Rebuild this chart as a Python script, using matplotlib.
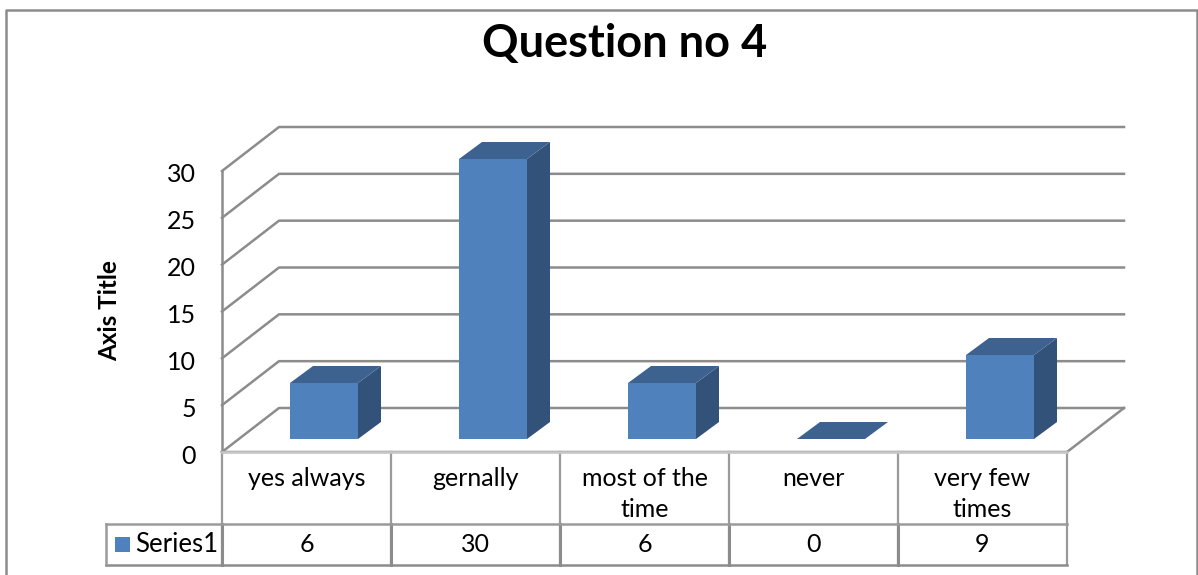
import matplotlib
matplotlib.use("Agg")
import matplotlib.pyplot as plt
from matplotlib.patches import Polygon, Rectangle

categories = ["yes always", "gernally", "most of the\ntime", "never", "very few\ntimes"]
values = [6, 30, 6, 0, 9]
yticks = [0, 5, 10, 15, 20, 25, 30]
series_name = "Series1"
title = "Question no 4"
ylabel = "Axis Title"

W, H = 1198, 575
FONT = ["Lato", "DejaVu Sans"]
BLUE, TOP, SIDE = "#4f81bd", "#3d628f", "#32527a"
GRID = "#8c8c8c"

fig = plt.figure(figsize=(W / 100, H / 100), dpi=100, facecolor="white")
L, R, T, B = 222, 1067, 171, 452
ax = fig.add_axes([L / W, 1 - B / H, (R - L) / W, (B - T) / H])
ax.set_xlim(0, 5)
ax.set_ylim(0, 30)
ax.axis("off")
px = 5 / (R - L)
py = 30 / (B - T)
dx, dy = 57 * px, 44 * py
lw = 1.8


def line(xs, ys, **kw):
    kw.setdefault("color", GRID)
    kw.setdefault("lw", lw)
    ax.plot(xs, ys, clip_on=False, solid_capstyle="projecting", **kw)


# walls and floor
for t in yticks:
    line([0, dx, 5 + dx], [t, t + dy, t + dy])
line([0, 0], [0, 30])
line([0, 5, 5 + dx], [0, 0, dy])

# bars
bw = 68 * px
shift = 17.5 * px
base = 13 * py
bdx, bdy = 23 * px, 17 * py
for i, v in enumerate(values):
    x0 = i + 0.5 - bw / 2 + shift
    x1 = x0 + bw
    y0, y1 = base, base + v * (280 / 281)
    ax.add_patch(Polygon([(x1, y0), (x1 + bdx, y0 + bdy), (x1 + bdx, y1 + bdy), (x1, y1)],
                         fc=SIDE, ec="none", clip_on=False, zorder=3))
    ax.add_patch(Polygon([(x0, y1), (x1, y1), (x1 + bdx, y1 + bdy), (x0 + bdx, y1 + bdy)],
                         fc=TOP, ec="none", clip_on=False, zorder=3))
    if v > 0:
        ax.bar(i + 0.5 + shift, y1 - y0, bw, bottom=y0, color=BLUE, zorder=3, clip_on=False)

# y tick labels
for t in yticks:
    ax.text(-26 * px, t - 4 * py, str(t), ha="right", va="center", fontsize=18,
            family=FONT, color="black", clip_on=False)

# data table
row1, row2 = -72 * py, -113 * py
left = -116 * px
ax.plot([0, 5], [0, 0], color="#c8c8c8", lw=1.8, clip_on=False, zorder=4)
for i in range(6):
    line([i, i], [0, row2], color="#9a9a9a", lw=1.6)
    if i < 5:
        line([i, i], [row1, row2], lw=2.2)
line([left, 5], [row1, row1], color="#9a9a9a")
line([left, 5], [row2, row2])
line([left, left], [row1, row2], color="#9a9a9a")
ax.add_patch(Rectangle((-107 * px, row1 - 28 * py), 15 * px, 15 * py, fc=BLUE, ec="none", clip_on=False))
ax.text(-87 * px, (row1 + row2) / 2, series_name, ha="left", va="center", fontsize=18.5,
        family=FONT, clip_on=False)
for i, (c, v) in enumerate(zip(categories, values)):
    ax.text(i + 0.5, -15 * py, c, ha="center", va="top", fontsize=18, family=FONT,
            linespacing=1.4, clip_on=False)
    ax.text(i + 0.5, (row1 + row2) / 2, str(v), ha="center", va="center", fontsize=18,
            family=FONT, clip_on=False)

# chart frame
fig.add_artist(plt.Line2D([6 / W, 6 / W, 1197 / W, 1197 / W], [0, 1 - 10 / H, 1 - 10 / H, 0],
                          color=GRID, lw=1.8))
fig.text(625 / W, 1 - 44 / H, title, ha="center", va="center", fontsize=32.5, fontweight="bold",
         family=FONT)
fig.text(110 / W, 1 - 311 / H, ylabel, rotation=90, ha="center", va="center", fontsize=17.5,
         fontweight="bold", family=FONT)

fig.savefig("out.png", dpi=100, facecolor="white")
